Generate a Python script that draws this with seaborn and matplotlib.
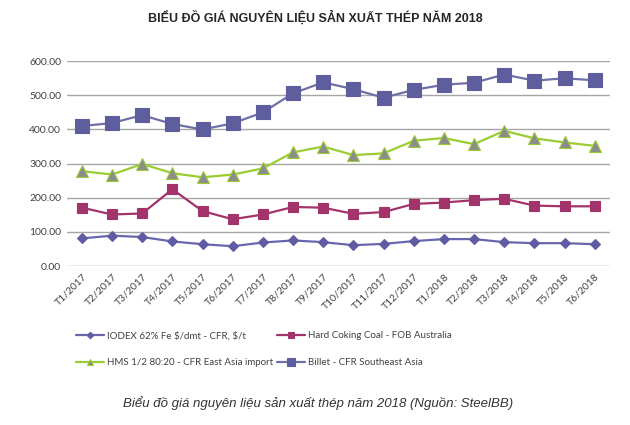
import matplotlib
matplotlib.use("Agg")
import matplotlib.pyplot as plt
import seaborn as sns
import pandas as pd

months = ["T1/2017", "T2/2017", "T3/2017", "T4/2017", "T5/2017", "T6/2017",
          "T7/2017", "T8/2017", "T9/2017", "T10/2017", "T11/2017", "T12/2017",
          "T1/2018", "T2/2018", "T3/2018", "T4/2018", "T5/2018", "T6/2018"]

iodex = [81, 89, 85, 72, 64, 58, 69, 75, 70, 61, 65, 73, 79, 79, 70, 67, 67, 64]
coal = [171, 151, 154, 225, 161, 137, 151, 173, 171, 153, 158, 182, 186, 193, 197, 177, 175, 175]
hms = [278, 268, 299, 272, 260, 268, 286, 333, 350, 325, 330, 367, 375, 357, 396, 374, 362, 352]
billet = [410, 419, 442, 416, 400, 418, 450, 506, 538, 518, 493, 516, 531, 537, 561, 543, 550, 544]

series = [
    (r"IODEX 62% Fe \$/dmt - CFR, \$/t", iodex, "#6a66ad", "D", 5.5, "#5f5ca3", "#5f5ca3"),
    ("Hard Coking Coal - FOB Australia", coal, "#a3336b", "s", 7.5, "#a3336b", "#a3336b"),
    ("HMS 1/2 80:20 - CFR East Asia import", hms, "#9acd32", "^", 8, "#8c8c8c", "#9acd32"),
    ("Billet - CFR Southeast Asia", billet, "#6f6fa8", "s", 9.5, "#5e5e9e", "#5e5e9e"),
]

sns.set_style("white")
plt.rcParams["font.family"] = ["Lato", "DejaVu Sans"]

fig = plt.figure(figsize=(6.3, 4.25), dpi=100)
ax = fig.add_axes([0.106, 0.374, 0.862, 0.482])

for name, vals, lc, mk, ms, mfc, mec in series:
    df = pd.DataFrame({"x": range(len(months)), "y": vals})
    sns.lineplot(data=df, x="x", y="y", ax=ax, color=lc, linewidth=1.6,
                 marker=mk, markersize=ms, markerfacecolor=mfc,
                 markeredgecolor=mec, markeredgewidth=0.8, label=name)

ax.set_xlim(-0.5, len(months) - 0.5)
ax.set_ylim(0, 600)
ax.set_yticks(range(0, 601, 100))
ax.set_yticklabels([f"{v:.2f}" for v in range(0, 601, 100)], fontsize=7.5, color="#404040")
ax.set_xticks(range(len(months)))
ax.set_xticklabels(months, rotation=45, ha="right", rotation_mode="anchor",
                   fontsize=7.5, color="#404040")
ax.tick_params(axis="both", length=0, pad=4)
ax.set_xlabel("")
ax.set_ylabel("")
ax.grid(axis="y", color="#a6a6a6", linewidth=1)
ax.set_axisbelow(True)
for sp in ax.spines.values():
    sp.set_visible(False)

# row-major order like the original legend
h, l = ax.get_legend_handles_labels()
order = [0, 2, 1, 3]
ax.legend([h[i] for i in order], [l[i] for i in order],
          loc="upper left", bbox_to_anchor=(0.0, -0.275), ncol=2, frameon=False,
          fontsize=7, handlelength=2.9, columnspacing=0.4, labelspacing=1.8,
          handletextpad=0.3, markerscale=0.6, labelcolor="#404040")

fig.text(0.5, 0.958, "BIỂU ĐỒ GIÁ NGUYÊN LIỆU SẢN XUẤT THÉP NĂM 2018",
         ha="center", va="center", fontsize=9, fontweight="bold",
         family=["Liberation Sans Narrow", "Liberation Sans", "DejaVu Sans"], color="#262626")
fig.text(0.505, 0.052, "Biểu đồ giá nguyên liệu sản xuất thép năm 2018 (Nguồn: SteelBB)",
         ha="center", va="center", fontsize=9.5, style="italic",
         family=["Liberation Sans", "DejaVu Sans"], color="#333333")

fig.savefig("out.png", dpi=100)
plt.close()
